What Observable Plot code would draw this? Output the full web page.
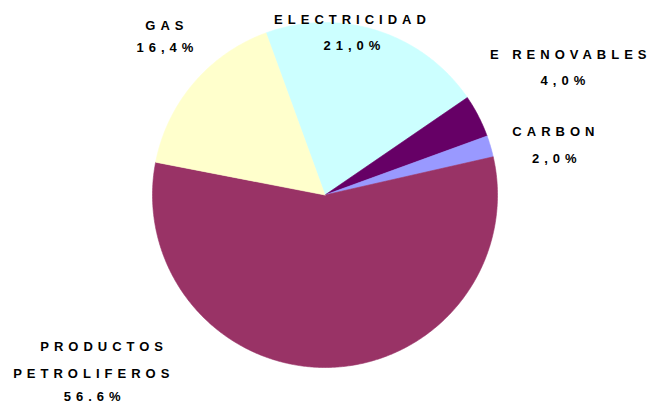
<!DOCTYPE html>
<html>
<head>
<meta charset="utf-8">
<script src="https://cdn.jsdelivr.net/npm/d3@7"></script>
<script src="https://cdn.jsdelivr.net/npm/@observablehq/plot@0.6"></script>
<style>
  html, body { margin: 0; padding: 0; background: #ffffff; }
  #chart { width: 648px; height: 405px; }
</style>
</head>
<body>
<div id="chart"></div>
<script>
// ---- data ----
const categories = ["ELECTRICIDAD", "E RENOVABLES", "CARBON", "PRODUCTOS PETROLIFEROS", "GAS"];
const shares = [21.0, 4.0, 2.0, 56.6, 16.4];
const shareLabels = ["21,0%", "4,0%", "2,0%", "56.6%", "16,4%"];
const sliceColors = ["#CCFFFF", "#660066", "#9999FF", "#993366", "#FFFFCC"];
const startAngleDeg = -20; // first slice starts 20° left of 12 o'clock, clockwise

// label text lines (one row per line) and their anchors in pie-radius units
const labelLines = [
  {text: "ELECTRICIDAD", x: 0.145, y: 1.017},
  {text: "21,0%", x: 0.156, y: 0.867},
  {text: "E RENOVABLES", x: 1.410, y: 0.815},
  {text: "4,0%", x: 1.379, y: 0.662},
  {text: "CARBON", x: 1.324, y: 0.364},
  {text: "2,0%", x: 1.329, y: 0.208},
  {text: "PRODUCTOS", x: -1.295, y: -0.882},
  {text: "PETROLIFEROS", x: -1.355, y: -1.035},
  {text: "56.6%", x: -1.350, y: -1.172},
  {text: "GAS", x: -0.931, y: 0.983},
  {text: "16,4%", x: -0.928, y: 0.853}
];

// ---- build slice outlines (polar -> cartesian in radius units) ----
const total = d3.sum(shares);
const slicePoints = [];
let acc = startAngleDeg;
categories.forEach((cat, i) => {
  const a0 = acc;
  const a1 = acc + shares[i] / total * 360;
  acc = a1;
  slicePoints.push({cat, x: 0, y: 0});
  const n = Math.max(2, Math.ceil(a1 - a0) * 2);
  for (let k = 0; k <= n; k++) {
    const a = (a0 + (a1 - a0) * k / n) * Math.PI / 180;
    slicePoints.push({cat, x: Math.sin(a), y: Math.cos(a)});
  }
  slicePoints.push({cat, x: 0, y: 0});
});

const cx = 324.5, cy = 194.5, R = 172.5;
const W = 648, H = 405;

const chart = Plot.plot({
  width: W,
  height: H,
  marginLeft: cx - R,
  marginRight: W - (cx + R),
  marginTop: cy - R,
  marginBottom: H - (cy + R),
  x: {domain: [-1, 1], axis: null},
  y: {domain: [-1, 1], axis: null},
  color: {domain: categories, range: sliceColors},
  style: {background: "#ffffff", overflow: "visible"},
  marks: [
    Plot.line(slicePoints, {
      x: "x", y: "y", z: "cat",
      fill: "cat", stroke: "cat", strokeWidth: 0.6,
      curve: "linear"
    }),
    Plot.text(labelLines, {
      x: "x", y: "y", text: "text",
      textAnchor: "middle", lineAnchor: "middle",
      fontSize: 13, fontWeight: "bold",
      fontFamily: "'Liberation Sans', Arial, sans-serif",
      fill: "#000000"
    })
  ]
});

// spaced-out lettering like the original; no trailing space after the last letter
chart.querySelectorAll("text").forEach(t => {
  const s = t.textContent;
  if (s.length < 2) return;
  t.textContent = "";
  const head = document.createElementNS("http://www.w3.org/2000/svg", "tspan");
  head.setAttribute("letter-spacing", "5");
  head.textContent = s.slice(0, -1);
  const tail = document.createElementNS("http://www.w3.org/2000/svg", "tspan");
  tail.setAttribute("letter-spacing", "0");
  tail.textContent = s.slice(-1);
  t.appendChild(head);
  t.appendChild(tail);
});
document.getElementById("chart").appendChild(chart);
</script>
</body>
</html>
